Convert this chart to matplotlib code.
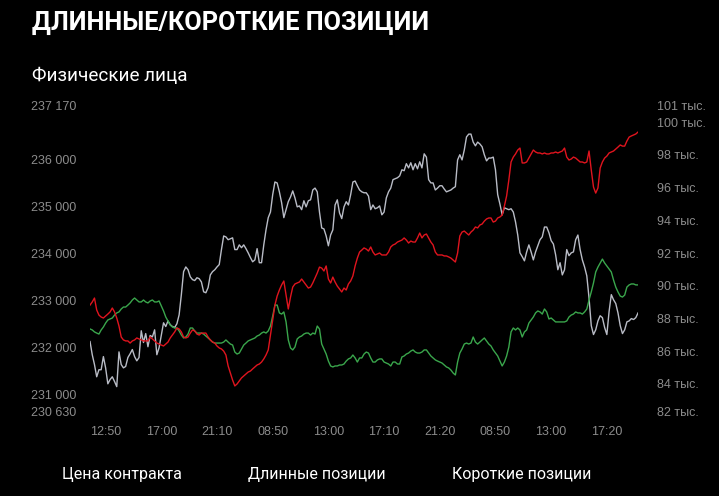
import matplotlib.pyplot as plt
import numpy as np

# цена контракта, руб. (левая ось), шаг 10 минут
price = [
    232130, 231850, 231640, 231380, 231530, 231530, 231810, 231570, 231230, 231320,
    231380, 231280, 231170, 231910, 231640, 231570, 231600, 231790, 231870, 231960,
    231810, 231720, 231790, 232360, 232110, 232300, 232020, 232260, 232230, 232380,
    231850, 232000, 232260, 232530, 232450, 232570, 232490, 232450, 232430, 232510,
    232700, 233130, 233620, 233720, 233660, 233510, 233450, 233430, 233490, 233470,
    233400, 233190, 233170, 233280, 233550, 233620, 233660, 233720, 233770, 234090,
    234380, 234360, 234300, 234320, 234340, 234090, 234090, 234190, 234130, 234190,
    234110, 234020, 233920, 233830, 233870, 234110, 233810, 233810, 234190, 234510,
    234770, 234890, 235260, 235530, 235510, 235320, 235090, 234770, 234940, 235110,
    235210, 235340, 235190, 235000, 235020, 234940, 235130, 235000, 235130, 235150,
    235360, 235400, 235320, 234890, 234550, 234530, 234380, 234170, 234400, 234510,
    235040, 235150, 234870, 234750, 235000, 235110, 235040, 235260, 235530, 235550,
    235450, 235360, 235320, 235300, 235300, 235230, 234940, 235040, 234960, 234980,
    235020, 234830, 234890, 235190, 235320, 235400, 235580, 235600, 235620, 235660,
    235790, 235770, 235920, 235830, 235940, 235790, 235920, 235810, 235960, 235830,
    236130, 236060, 235580, 235510, 235510, 235360, 235400, 235450, 235450, 235380,
    235320, 235340, 235360, 235400, 235430, 236000, 236110, 236000, 236210, 236490,
    236550, 236550, 236380, 236300, 236380, 236340, 236280, 236110, 235980, 236040,
    236040, 236060, 235790, 235260, 235060, 234830, 234980, 234960, 234940, 234960,
    234890, 234680, 234400, 234020, 233940, 233850, 234040, 234190, 234040, 233870,
    234040, 234170, 234300, 234360, 234570, 234570, 234450, 234280, 234210, 233980,
    233660, 233810, 233550, 233660, 234090, 233960, 234020, 234040, 234300, 234400,
    234090, 233870, 233720, 233530, 233060, 232470, 232280, 232380, 232570, 232680,
    232640, 232430, 232280, 232770, 233130, 233020, 232940, 232740, 232470, 232300,
    232380, 232550, 232570, 232620, 232600, 232640, 232740,
]

# длинные позиции, тыс. (правая ось)
long_pos = [
    87.36, 87.30, 87.18, 87.11, 87.05, 87.30, 87.48, 87.72, 87.91, 87.97,
    88.03, 88.21, 88.34, 88.40, 88.58, 88.70, 88.70, 88.82, 88.95, 89.13,
    89.25, 89.13, 89.01, 89.01, 89.13, 89.01, 88.95, 89.07, 89.13, 89.01,
    89.01, 89.07, 88.76, 88.46, 88.09, 87.85, 87.60, 87.48, 87.42, 87.42,
    87.24, 86.99, 86.81, 86.87, 87.05, 87.42, 87.42, 87.24, 87.11, 87.11,
    87.11, 87.05, 86.93, 86.81, 86.69, 86.56, 86.50, 86.50, 86.50, 86.50,
    86.56, 86.69, 86.56, 86.44, 86.38, 85.95, 85.83, 85.89, 86.14, 86.38,
    86.50, 86.63, 86.69, 86.75, 86.81, 86.93, 86.99, 87.11, 87.18, 87.11,
    87.24, 87.54, 88.15, 88.82, 88.82, 88.34, 88.27, 88.40, 87.79, 86.69,
    86.20, 86.08, 86.26, 86.75, 86.87, 86.93, 87.05, 87.11, 87.11, 86.99,
    87.11, 87.05, 87.54, 87.36, 86.44, 86.14, 85.83, 85.40, 85.10, 85.04,
    85.10, 85.10, 85.16, 85.16, 85.22, 85.40, 85.53, 85.59, 85.77, 85.59,
    85.34, 85.59, 85.59, 85.83, 85.95, 85.89, 85.59, 85.34, 85.34, 85.47,
    85.53, 85.53, 85.34, 85.28, 85.22, 85.10, 85.34, 85.34, 85.22, 85.22,
    85.65, 85.71, 85.83, 85.89, 86.01, 86.08, 85.95, 85.89, 85.89, 85.95,
    86.08, 86.08, 85.89, 85.71, 85.59, 85.47, 85.40, 85.34, 85.28, 85.16,
    85.04, 84.98, 84.85, 84.67, 84.55, 85.34, 85.89, 86.14, 86.44, 86.50,
    86.44, 86.50, 86.87, 86.56, 86.44, 86.56, 86.69, 86.81, 86.63, 86.44,
    86.32, 86.08, 85.89, 85.71, 85.40, 85.10, 85.34, 85.71, 86.26, 87.18,
    87.42, 87.30, 87.42, 87.30, 86.87, 87.18, 87.30, 87.72, 87.91, 88.09,
    88.34, 88.46, 88.40, 88.27, 88.58, 88.40, 87.97, 88.03, 87.91, 87.79,
    87.79, 87.79, 87.79, 87.79, 87.85, 88.09, 88.21, 88.27, 88.40, 88.34,
    88.34, 88.27, 88.40, 88.58, 89.13, 89.62, 90.17, 90.84, 91.14, 91.39,
    91.63, 91.39, 91.21, 91.02, 90.84, 90.35, 89.92, 89.62, 89.37, 89.31,
    89.43, 89.92, 90.05, 90.11, 90.11, 90.05, 90.05,
]

# короткие позиции, тыс. (правая ось)
short_pos = [
    88.82, 89.01, 89.25, 88.52, 88.21, 88.09, 88.03, 88.15, 88.27, 88.40,
    88.64, 88.40, 88.03, 87.54, 86.87, 86.69, 86.63, 86.63, 86.50, 86.63,
    86.69, 86.81, 86.75, 86.69, 86.63, 86.63, 86.63, 86.87, 86.75, 86.63,
    86.50, 86.44, 86.38, 86.32, 86.44, 86.56, 86.81, 86.99, 87.18, 87.42,
    87.36, 87.18, 86.87, 86.81, 86.87, 87.11, 87.30, 87.24, 87.05, 86.99,
    87.11, 87.11, 87.11, 86.87, 86.69, 86.56, 86.50, 86.32, 86.20, 86.14,
    86.01, 85.77, 85.10, 84.67, 84.24, 83.88, 84.00, 84.18, 84.37, 84.49,
    84.61, 84.73, 84.79, 84.92, 85.04, 85.16, 85.22, 85.34, 85.53, 85.77,
    86.08, 86.99, 87.91, 88.82, 89.37, 89.74, 90.05, 90.29, 89.43, 88.58,
    89.31, 89.92, 90.11, 90.17, 90.23, 90.41, 90.23, 90.05, 89.86, 89.92,
    90.17, 90.47, 90.78, 91.14, 91.08, 90.90, 91.21, 90.41, 90.17, 90.53,
    90.23, 89.98, 89.80, 89.62, 89.86, 89.74, 90.11, 90.29, 90.60, 91.21,
    91.69, 92.06, 92.18, 92.31, 92.24, 92.12, 92.37, 92.06, 91.88, 91.94,
    92.00, 91.88, 91.88, 91.88, 92.06, 92.37, 92.49, 92.55, 92.67, 92.73,
    92.79, 92.92, 92.79, 92.61, 92.73, 92.67, 92.67, 92.92, 93.22, 92.92,
    93.10, 93.16, 92.92, 92.67, 92.49, 92.06, 91.88, 91.88, 91.88, 91.82,
    91.82, 91.76, 91.69, 91.57, 91.45, 92.00, 93.04, 93.28, 93.34, 93.22,
    93.10, 93.28, 93.40, 93.59, 93.53, 93.71, 93.77, 93.95, 94.08, 94.14,
    94.14, 93.89, 93.95, 94.14, 94.20, 94.32, 94.87, 95.48, 96.46, 97.56,
    97.86, 98.05, 98.29, 98.41, 97.50, 97.50, 97.56, 97.80, 98.05, 98.29,
    98.17, 98.11, 98.11, 98.05, 98.11, 98.05, 98.05, 98.11, 98.11, 98.17,
    98.11, 98.17, 98.23, 98.41, 97.86, 97.68, 97.74, 97.86, 97.80, 97.68,
    97.56, 97.56, 97.50, 97.56, 98.23, 97.07, 96.03, 95.66, 95.97, 97.19,
    97.56, 97.80, 97.92, 98.11, 98.17, 98.23, 98.35, 98.47, 98.60, 98.53,
    98.53, 98.84, 99.08, 99.15, 99.21, 99.27, 99.39,
]

time_labels = ["12:50", "17:00", "21:10", "08:50", "13:00",
               "17:10", "21:20", "08:50", "13:00", "17:20"]
first_label = 7   # индекс точки 12:50
label_step = 25   # 25 точек по 10 минут

price_ticks = [230630, 231000, 232000, 233000, 234000, 235000, 236000, 237170]
pos_ticks = [82.29, 84, 86, 88, 90, 92, 94, 96, 98, 100, 101.04]

gray = '#b9bcc6'
red = '#e0141e'
green = '#3aa64c'
tick_color = '#8c8c8c'
tick_font = 'Liberation Sans'

fig = plt.figure(figsize=(7.19, 4.96), dpi=100, facecolor='black')
ax = fig.add_axes([0.1252, 0.1694, 0.7622, 0.6189])
ax.set_facecolor('black')
ax2 = ax.twinx()

x = np.arange(len(price))
l1, = ax.plot(x, price, color=gray, lw=1.0, label='Цена контракта')
l2, = ax2.plot(x, long_pos, color=green, lw=1.0, label='Длинные позиции')
l3, = ax2.plot(x, short_pos, color=red, lw=1.0, label='Короткие позиции')

ax.set_xlim(0, len(price) - 1)
ax.set_ylim(price_ticks[0], price_ticks[-1])
ax2.set_ylim(pos_ticks[0], pos_ticks[-1])

ax.set_xticks(range(first_label, len(price), label_step))
ax.set_xticklabels(time_labels)
ax.set_yticks(price_ticks)
ax.set_yticklabels([f"{v:,}".replace(",", " ") for v in price_ticks])
ax2.set_yticks(pos_ticks)
ax2.set_yticklabels([f"{round(v)} тыс." for v in pos_ticks])

for a in (ax, ax2):
    for s in a.spines.values():
        s.set_visible(False)
    a.tick_params(length=0, colors=tick_color, labelsize=9)
    for t in a.get_xticklabels() + a.get_yticklabels():
        t.set_fontfamily(tick_font)
ax.tick_params(axis='y', pad=10)
ax.tick_params(axis='x', pad=10)
ax2.tick_params(axis='y', pad=14)

fig.text(0.0445, 0.9395, 'ДЛИННЫЕ/КОРОТКИЕ ПОЗИЦИИ', color='white',
         fontsize=18.2, fontweight='bold', fontfamily='Roboto', va='baseline')
fig.text(0.0445, 0.8367, 'Физические лица', color='white',
         fontsize=13.6, fontfamily='Roboto', va='baseline')

leg = fig.legend(handles=[l1, l2, l3], loc='center left',
                 bbox_to_anchor=(62 / 719, 1 - 474 / 496), ncol=3,
                 frameon=False, handlelength=0, handletextpad=0,
                 columnspacing=4.15, borderpad=0, borderaxespad=0,
                 prop={'family': 'Roboto', 'size': 11.5})
for t in leg.get_texts():
    t.set_color('white')

fig.savefig('out.png', dpi=100, facecolor='black')
